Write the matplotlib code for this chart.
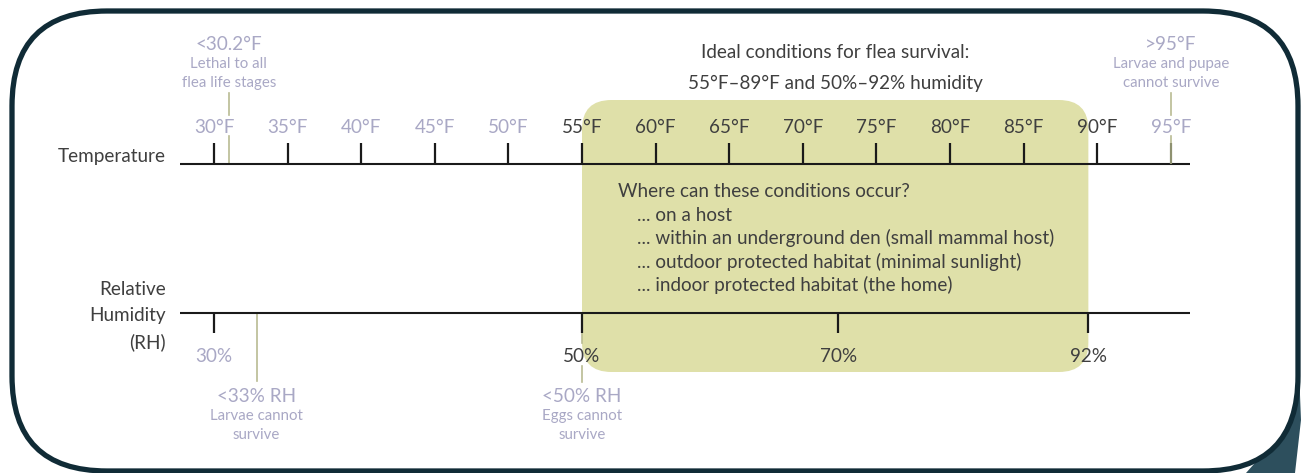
import numpy as np
import matplotlib
matplotlib.use("Agg")
import matplotlib.pyplot as plt
from matplotlib.patches import FancyBboxPatch, Polygon

# ---------------- data ----------------
temp_ticks = [30, 35, 40, 45, 50, 55, 60, 65, 70, 75, 80, 85, 90, 95]
temp_tick_labels = [f"{t}°F" for t in temp_ticks]
temp_ideal = [55, 89]

rh_ticks = [30, 50, 70, 92]
rh_tick_labels = ["30%", "50%", "70%", "92%"]
rh_ideal = [50, 92]

temp_limits = [30.2, 95]
temp_limit_pos = [31.0, 95]          # where the markers sit on the drawn scale
temp_limit_titles = ["<30.2°F", ">95°F"]
temp_limit_notes = [["Lethal to all", "flea life stages"],
                    ["Larvae and pupae", "cannot survive"]]

rh_limits = [33, 50]
rh_limit_titles = ["<33% RH", "<50% RH"]
rh_limit_notes = [["Larvae cannot", "survive"], ["Eggs cannot", "survive"]]

# schematic (non-linear) humidity scale, expressed on the temperature axis
rh_scale_vals = [30, 33, 50, 70, 92]
rh_scale_temp = [30, 32.9, 55, 72.4, 89.4]

title_lines = ["Ideal conditions for flea survival:",
               "55°F–89°F and 50%–92% humidity"]
occur_title = "Where can these conditions occur?"
occur_items = ["... on a host",
               "... within an underground den (small mammal host)",
               "... outdoor protected habitat (minimal sunlight)",
               "... indoor protected habitat (the home)"]

# ---------------- style ----------------
W, H = 1307, 473
DARK = "#3f3f3f"
LAV = "#a9a8c5"
OLIVE = "#b9bb92"
GREEN = "#dfe0a9"
BORDER = "#102b36"
SHADOW = "#2d4f5d"
FONT = ["Lato", "DejaVu Sans"]
plt.rcParams["font.family"] = FONT
FS = 13.6       # main text size
FS_TICK = 13.6
FS_NOTE = 10.8

PX_PER_F = 14.72
X0_F = 30 - 214 / PX_PER_F           # temperature value at left figure edge
X1_F = X0_F + W / PX_PER_F

def rh_x(v):
    return np.interp(v, rh_scale_vals, rh_scale_temp)

fig = plt.figure(figsize=(W / 100, H / 100), dpi=100)

# background axes in pixel units (frame)
bg = fig.add_axes([0, 0, 1, 1])
bg.set_xlim(0, W)
bg.set_ylim(H, 0)
bg.axis("off")
bg.add_patch(Polygon([(1246, 473), (1262, 455), (1285, 420), (1299, 370),
                      (1301, 420), (1295, 473)], closed=True,
                     facecolor=SHADOW, edgecolor="none", zorder=0))
bg.add_patch(FancyBboxPatch((12, 11), 1286, 460,
                            boxstyle="round,pad=0,rounding_size=95",
                            facecolor="white", edgecolor=BORDER, lw=3.8,
                            zorder=1))

# main axes: x in °F, y in pixel rows
ax = fig.add_axes([0, 0, 1, 1])
ax.set_xlim(X0_F, X1_F)
ax.set_ylim(H, 0)
ax.axis("off")
ax.patch.set_alpha(0)

Y_T = 164      # temperature axis
Y_RH = 313     # humidity axis
axis_left = X0_F + 180 / PX_PER_F
axis_right = X0_F + 1190 / PX_PER_F

# ideal region box
x_left = min(temp_ideal[0], rh_x(rh_ideal[0]))
x_right = max(temp_ideal[1], rh_x(rh_ideal[1]))
ax.add_patch(FancyBboxPatch((x_left, 100), x_right - x_left, 272,
                            boxstyle="round,pad=0,rounding_size=2.0",
                            mutation_aspect=PX_PER_F,
                            facecolor=GREEN, edgecolor="none", zorder=1))

# axes lines
ax.plot([axis_left, axis_right], [Y_T, Y_T], color="#1a1a1a", lw=1.5, zorder=3,
        solid_capstyle="butt")
ax.plot([axis_left, axis_right], [Y_RH, Y_RH], color="#1a1a1a", lw=1.5, zorder=3,
        solid_capstyle="butt")

# temperature ticks
for t, lab in zip(temp_ticks, temp_tick_labels):
    inside = temp_ideal[0] <= t <= 90
    tcol = "#1a1a1a" if t not in temp_limits else "#8e9170"
    ax.plot([t, t], [143, Y_T], color=tcol, lw=1.6, zorder=3,
            solid_capstyle="butt")
    ax.text(t, 133, lab, ha="center", va="baseline", fontsize=FS_TICK,
            color=DARK if inside else LAV, zorder=4)

# temperature limit markers
for pos, ttl, notes in zip(temp_limit_pos, temp_limit_titles, temp_limit_notes):
    ax.plot([pos, pos], [93, 115], color=OLIVE, lw=1.2, zorder=2)
    ax.plot([pos, pos], [136, Y_T], color=OLIVE, lw=1.2, zorder=2)
    ax.text(pos, 50, ttl, ha="center", va="baseline", fontsize=FS, color=LAV)
    ax.text(pos, 68, notes[0], ha="center", va="baseline", fontsize=FS_NOTE, color=LAV)
    ax.text(pos, 87, notes[1], ha="center", va="baseline", fontsize=FS_NOTE, color=LAV)

# RH ticks
for v, lab in zip(rh_ticks, rh_tick_labels):
    x = rh_x(v)
    ax.plot([x, x], [Y_RH, 333], color="#1a1a1a", lw=1.6, zorder=3,
            solid_capstyle="butt")
    ax.text(x, 362, lab, ha="center", va="baseline", fontsize=FS_TICK,
            color=DARK if v >= rh_ideal[0] else LAV, zorder=4)

# RH limit markers
for v, ttl, notes in zip(rh_limits, rh_limit_titles, rh_limit_notes):
    x = rh_x(v)
    if v in rh_ticks:
        ax.plot([x, x], [333, 343], color=OLIVE, lw=1.2, zorder=2)
        ax.plot([x, x], [366, 382], color=OLIVE, lw=1.2, zorder=2)
    else:
        ax.plot([x, x], [Y_RH, 381], color=OLIVE, lw=1.2, zorder=2)
    ax.text(x, 402, ttl, ha="center", va="baseline", fontsize=FS, color=LAV)
    ax.text(x, 420, notes[0], ha="center", va="baseline", fontsize=FS_NOTE, color=LAV)
    ax.text(x, 439, notes[1], ha="center", va="baseline", fontsize=FS_NOTE, color=LAV)

# axis names
x_name = X0_F + 166 / PX_PER_F
ax.text(x_name, 162, "Temperature", ha="right", va="baseline", fontsize=FS,
        color=DARK)
for yy, s in zip([295, 321, 348], ["Relative", "Humidity", "(RH)"]):
    ax.text(x_name, yy, s, ha="right", va="baseline", fontsize=FS, color=DARK)

# title
x_title = X0_F + 835 / PX_PER_F
ax.text(x_title, 58, title_lines[0], ha="center", va="baseline", fontsize=FS,
        color=DARK)
ax.text(x_title, 89, title_lines[1], ha="center", va="baseline", fontsize=FS,
        color=DARK)

# conditions list
x_occ = X0_F + 618 / PX_PER_F
x_item = X0_F + 637 / PX_PER_F
ax.text(x_occ, 197, occur_title, ha="left", va="baseline", fontsize=FS,
        color=DARK, zorder=4)
for i, s in enumerate(occur_items):
    ax.text(x_item, 221 + 23.4 * i, s, ha="left", va="baseline", fontsize=FS,
            color=DARK, zorder=4)

fig.savefig("out.png", dpi=100)
